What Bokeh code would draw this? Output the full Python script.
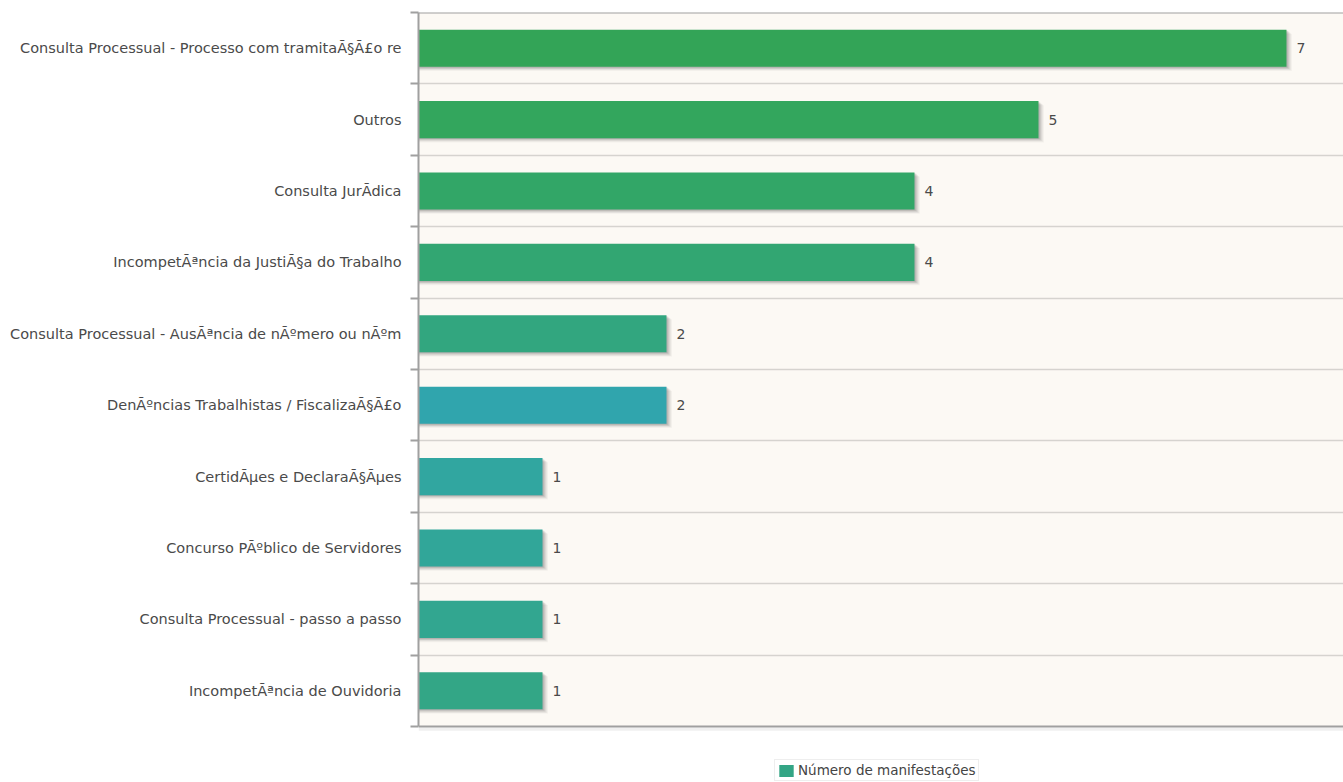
from bokeh.plotting import figure
from bokeh.models import (Range1d, FixedTicker, Legend, LegendItem, Span,
                          BoxAnnotation, ColumnDataSource)
from bokeh.transform import dodge
from bokeh.embed import file_html
from bokeh.resources import INLINE
from bokeh.core.properties import value

categories = [
    "Consulta Processual - Processo com tramitaÃ§Ã£o re",
    "Outros",
    "Consulta JurÃdica",
    "IncompetÃªncia da JustiÃ§a do Trabalho",
    "Consulta Processual - AusÃªncia de nÃºmero ou nÃºm",
    "DenÃºncias Trabalhistas / FiscalizaÃ§Ã£o",
    "CertidÃµes e DeclaraÃ§Ãµes",
    "Concurso PÃºblico de Servidores",
    "Consulta Processual - passo a passo",
    "IncompetÃªncia de Ouvidoria",
]
counts = [7, 5, 4, 4, 2, 2, 1, 1, 1, 1]
series_name = "Número de manifestações"

colors = ["#33a457", "#33a65d", "#32a667", "#32a672", "#32a67f",
          "#30a5ad", "#31a6a0", "#31a699", "#32a690", "#33a686"]

n = len(categories)
ypos = [n - 0.5 - i for i in range(n)]

src = ColumnDataSource(dict(y=ypos, v=counts, c=colors,
                            t=[str(v) for v in counts], cat=categories))

PLOT_H = 714          # pixel height of the bar area
EXTRA_H = 56          # legend strip under the bar area
y_low = -n * EXTRA_H / PLOT_H

p = figure(width=1343, height=782, frame_width=925, frame_height=PLOT_H + EXTRA_H,
           output_backend="svg", toolbar_location=None,
           x_range=Range1d(0, 7.46), y_range=Range1d(y_low, n),
           min_border_left=418, min_border_right=0, min_border_top=12,
           min_border_bottom=0, background_fill_color="white",
           border_fill_color="white", outline_line_color=None)

p.add_layout(BoxAnnotation(bottom=0, top=n, fill_color="#fcf9f4", fill_alpha=1,
                           line_color=None, level="image"))

# shadows
for k, a in [(1, 0.14), (2, 0.12), (3, 0.10), (4, 0.08), (5, 0.06), (6, 0.04)]:
    p.hbar(y=dodge("y", -0.010 * k, range=p.y_range), left=0,
           right=dodge("v", 0.0075 * k, range=p.x_range), height=0.52,
           source=src, fill_color="#555555", fill_alpha=a, line_color=None)

bars = p.hbar(y="y", left=0, right="v", height=0.52, source=src,
              fill_color="c", line_color=None)

p.text(x="v", y="y", text="t", source=src, x_offset=10,
       text_baseline="middle", text_align="left", text_font_size="14px",
       text_color="#4a4a4a", text_font=value("DejaVu Sans"))

# left axis
ya = p.yaxis[0]
ya.bounds = (0, n)
ya.ticker = FixedTicker(ticks=ypos, minor_ticks=list(range(n + 1)))
ya.major_label_overrides = {y: c for y, c in zip(ypos, categories)}
ya.major_tick_out = 0
ya.major_tick_in = 0
ya.minor_tick_out = 8
ya.minor_tick_in = 0
ya.minor_tick_line_color = "#a0a0a0"
ya.minor_tick_line_width = 2
ya.axis_line_color = "#a0a0a0"
ya.axis_line_width = 2
ya.major_label_standoff = 9
ya.major_label_text_font = "DejaVu Sans"
ya.major_label_text_font_size = "14.5px"
ya.major_label_text_color = "#4a4a4a"

p.xaxis.visible = False

# bottom and top frame lines
p.add_layout(Span(location=0, dimension="width", line_color="#a0a0a0", line_width=2))
p.add_layout(Span(location=y_low * 0.05, dimension="width", line_color="#000000",
                  line_alpha=0.06, line_width=3))
p.add_layout(Span(location=n, dimension="width", line_color="#a0a0a0", line_width=2))

p.xgrid.visible = False
p.ygrid.ticker = FixedTicker(ticks=list(range(1, n)))
p.ygrid.grid_line_color = "#d6d3cf"
p.ygrid.grid_line_width = 1.5

leg_r = p.hbar(y=[-5], left=[0], right=[0], height=0.1,
               fill_color="#33a585", line_color=None)
legend = Legend(items=[LegendItem(label=series_name, renderers=[leg_r])],
                location=(356, 1), orientation="horizontal",
                label_text_font="DejaVu Sans", label_text_font_size="13.5px",
                label_text_color="#444444", border_line_color="#dddddd",
                background_fill_alpha=0, glyph_width=18, glyph_height=15,
                padding=2, margin=0, label_standoff=3, spacing=0)
p.add_layout(legend, "center")

open("out.html", "w").write(file_html(p, INLINE))
